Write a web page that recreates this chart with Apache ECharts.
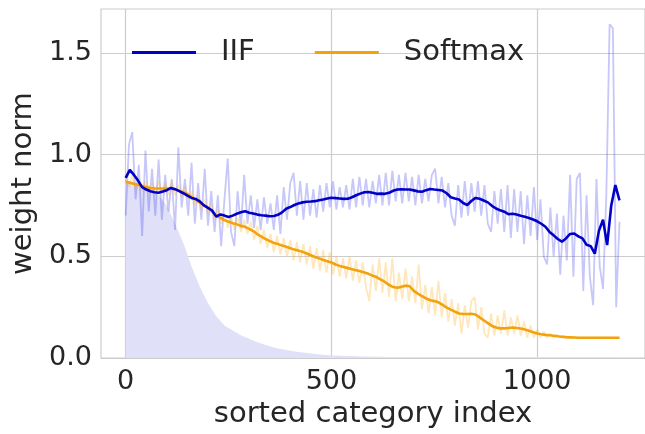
<!DOCTYPE html>
<html>
<head>
<meta charset="utf-8">
<script src="https://cdn.jsdelivr.net/npm/echarts@6/dist/echarts.min.js"></script>
<style>
html,body{margin:0;padding:0;background:#fff;}
#chart{width:645px;height:434px;}
</style>
</head>
<body>
<div id="chart"></div>
<script>
// sorted category index step for each array
var smoothStep = 10;
var rawStep = 8;
var fillStep = 20;

var xTicks = [0, 500, 1000];
var yTicks = [0, 0.5, 1.0, 1.5];

// IIF smoothed weight norm (every 10 categories, 0..1200)
var iifSmooth = [
  0.885,0.925,0.900,0.872,0.840,0.828,0.820,0.815,0.812,0.818,
  0.825,0.836,0.830,0.820,0.810,0.798,0.787,0.782,0.770,0.750,
  0.738,0.725,0.695,0.706,0.700,0.693,0.700,0.709,0.716,0.722,
  0.714,0.710,0.705,0.702,0.700,0.697,0.698,0.704,0.716,0.734,
  0.742,0.752,0.760,0.765,0.768,0.769,0.771,0.775,0.779,0.784,
  0.788,0.786,0.784,0.782,0.783,0.790,0.800,0.808,0.815,0.816,
  0.812,0.807,0.808,0.807,0.812,0.822,0.828,0.829,0.828,0.828,
  0.824,0.819,0.817,0.825,0.831,0.828,0.826,0.823,0.810,0.790,
  0.784,0.779,0.762,0.752,0.772,0.787,0.783,0.774,0.765,0.748,
  0.735,0.726,0.719,0.707,0.709,0.705,0.699,0.694,0.688,0.681,
  0.672,0.660,0.645,0.620,0.603,0.585,0.572,0.588,0.610,0.612,
  0.598,0.588,0.557,0.550,0.513,0.625,0.680,0.555,0.750,0.850,
  0.775
];

// Softmax smoothed weight norm (every 10 categories, 0..1200)
var softSmooth = [
  0.866,0.862,0.856,0.851,0.846,0.840,0.836,0.834,0.833,0.833,
  0.833,0.832,0.830,0.822,0.815,0.806,0.792,0.778,0.764,0.752,
  0.738,0.720,0.700,0.690,0.678,0.670,0.663,0.657,0.650,0.645,
  0.635,0.624,0.608,0.597,0.585,0.575,0.566,0.560,0.553,0.547,
  0.540,0.533,0.528,0.522,0.514,0.505,0.497,0.490,0.482,0.476,
  0.470,0.460,0.453,0.447,0.442,0.437,0.432,0.427,0.421,0.414,
  0.405,0.398,0.385,0.374,0.360,0.349,0.346,0.350,0.356,0.353,
  0.330,0.317,0.305,0.293,0.284,0.280,0.274,0.262,0.248,0.238,
  0.228,0.219,0.217,0.217,0.218,0.214,0.200,0.186,0.172,0.158,
  0.150,0.146,0.146,0.148,0.150,0.148,0.145,0.140,0.134,0.127,
  0.121,0.117,0.114,0.112,0.110,0.107,0.105,0.103,0.102,0.101,
  0.100,0.100,0.100,0.100,0.100,0.100,0.100,0.100,0.100,0.100,
  0.100
];

// IIF raw weight norm (every 8 categories, 0..1200)
var iifRaw = [
  0.70,1.05,1.11,0.78,0.95,0.60,1.02,0.72,0.93,0.70,
  0.975,0.68,0.90,0.72,0.88,0.63,1.035,0.74,0.88,0.70,
  0.96,0.66,0.86,0.68,0.93,0.65,0.82,0.62,0.80,0.55,
  0.78,0.98,0.62,0.55,0.82,0.64,0.90,0.66,0.80,0.64,
  0.78,0.63,0.79,0.66,0.76,0.63,0.80,0.61,0.84,0.68,
  0.86,0.91,0.70,0.87,0.68,0.86,0.70,0.83,0.69,0.85,
  0.72,0.86,0.74,0.87,0.73,0.84,0.74,0.85,0.73,0.88,
  0.74,0.89,0.75,0.88,0.74,0.87,0.76,0.90,0.75,0.91,
  0.75,0.92,0.77,0.90,0.76,0.91,0.77,0.89,0.75,0.90,
  0.76,0.88,0.77,0.90,0.93,0.76,0.89,0.74,0.86,0.70,
  0.65,0.85,0.69,0.87,0.70,0.86,0.72,0.87,0.70,0.85,
  0.66,0.62,0.82,0.66,0.83,0.62,0.85,0.59,0.83,0.62,
  0.82,0.56,0.80,0.60,0.84,0.58,0.78,0.50,0.46,0.74,
  0.50,0.71,0.41,0.70,0.48,0.90,0.40,0.88,0.91,0.33,
  0.80,0.40,0.26,0.88,0.45,0.34,0.80,1.64,1.62,0.25,
  0.67
];

// Softmax raw weight norm (every 8 categories, 0..1200)
var softRaw = [
  0.88,0.84,0.90,0.83,0.88,0.82,0.87,0.81,0.86,0.80,
  0.87,0.81,0.86,0.80,0.87,0.80,0.85,0.79,0.84,0.78,
  0.82,0.75,0.80,0.73,0.78,0.71,0.76,0.68,0.73,0.66,
  0.71,0.64,0.70,0.63,0.69,0.62,0.68,0.61,0.67,0.58,
  0.65,0.56,0.63,0.54,0.61,0.52,0.60,0.51,0.59,0.50,
  0.58,0.48,0.57,0.47,0.56,0.46,0.55,0.44,0.54,0.43,
  0.53,0.42,0.52,0.41,0.50,0.40,0.49,0.39,0.50,0.38,
  0.48,0.37,0.47,0.35,0.28,0.46,0.33,0.49,0.32,0.47,
  0.30,0.49,0.28,0.42,0.29,0.44,0.28,0.40,0.27,0.46,
  0.24,0.36,0.22,0.35,0.21,0.38,0.20,0.32,0.18,0.29,
  0.16,0.27,0.12,0.26,0.15,0.28,0.30,0.14,0.25,0.12,
  0.10,0.22,0.11,0.21,0.12,0.235,0.11,0.20,0.12,0.21,
  0.11,0.18,0.10,0.16,0.10,0.14,0.10,0.13,0.10,0.12,
  0.10,0.115,0.10,0.108,0.10,0.104,0.101,0.10,0.101,0.10,
  0.101,0.10,0.10,0.101,0.10,0.10,0.10,0.10,0.10,0.10,
  0.10
];

// normalized category frequency (every 20 categories, 0..1200)
var freqFill = [
  0.870,0.860,0.850,0.830,0.800,0.750,0.660,0.565,0.450,0.350,
  0.270,0.205,0.160,0.135,0.112,0.095,0.078,0.064,0.052,0.044,
  0.036,0.030,0.025,0.020,0.016,0.013,0.011,0.010,0.009,0.008,
  0.007,0.007,0.006,0.006,0.006,0.006,0.006,0.006,0.006,0.006,
  0.006,0.005,0.005,0.005,0.005,0.005,0.005,0.005,0.005,0.005,
  0.005,0.005,0.005,0.005,0.005,0.005,0.005,0.005,0.005,0.005,
  0.005
];

function pairs(arr, step) {
  return arr.map(function (v, k) { return [k * step, v]; });
}

var FONT = 'DejaVu Sans';
var TXT = '#262626';

var chart = echarts.init(document.getElementById('chart'), null, {renderer: 'canvas'});
chart.setOption({
  animation: false,
  backgroundColor: '#ffffff',
  grid: {
    left: 101, top: 9, right: -3, bottom: 73,
    show: true, borderColor: '#cccccc', borderWidth: 1.2, backgroundColor: '#ffffff'
  },
  legend: {
    data: ['IIF', 'Softmax'],
    left: 127, top: 33,
    icon: 'rect',
    itemWidth: 64, itemHeight: 3,
    itemGap: 60,
    textStyle: {fontFamily: FONT, fontSize: 29, color: TXT, padding: [0, 0, 0, 20]}
  },
  xAxis: {
    type: 'value', min: -60, max: 1262,
    name: 'sorted category index', nameLocation: 'middle', nameGap: 37,
    nameTextStyle: {fontFamily: FONT, fontSize: 29, color: TXT},
    axisLine: {show: false}, axisTick: {show: false, customValues: xTicks},
    axisLabel: {customValues: xTicks, fontFamily: FONT, fontSize: 27, color: TXT, margin: 10,
      formatter: function (v) { return String(Math.round(v)); }},
    splitLine: {show: true, lineStyle: {color: '#cccccc', width: 1.2}}
  },
  yAxis: {
    type: 'value', min: 0, max: 1.715,
    name: 'weight norm', nameLocation: 'middle', nameGap: 55,
    nameTextStyle: {fontFamily: FONT, fontSize: 29, color: TXT},
    axisLine: {show: false}, axisTick: {show: false, customValues: yTicks},
    axisLabel: {customValues: yTicks, fontFamily: FONT, fontSize: 27, color: TXT, margin: 9,
      formatter: function (v) { return v.toFixed(1); }},
    splitLine: {show: true, lineStyle: {color: '#cccccc', width: 1.2}}
  },
  series: [
    {
      name: 'freq', type: 'line', data: pairs(freqFill, fillStep), showSymbol: false, silent: true,
      lineStyle: {width: 0}, itemStyle: {color: '#e0e0f9'},
      areaStyle: {color: '#e0e0f9', opacity: 1}, z: 1
    },
    {
      name: 'IIF raw', type: 'line', data: pairs(iifRaw, rawStep), showSymbol: false, silent: true,
      lineStyle: {width: 1.8, color: 'rgba(70,70,235,0.3)'}, z: 2
    },
    {
      name: 'Softmax raw', type: 'line', data: pairs(softRaw, rawStep), showSymbol: false, silent: true,
      lineStyle: {width: 1.8, color: 'rgba(255,175,30,0.3)'}, z: 3
    },
    {
      name: 'Softmax', type: 'line', data: pairs(softSmooth, smoothStep), showSymbol: false,
      itemStyle: {color: '#f2a20c'}, lineStyle: {width: 2.6, color: '#f2a20c'}, z: 4
    },
    {
      name: 'IIF', type: 'line', data: pairs(iifSmooth, smoothStep), showSymbol: false,
      itemStyle: {color: '#0000c8'}, lineStyle: {width: 2.6, color: '#0000c8'}, z: 5
    }
  ]
});
</script>
</body>
</html>
